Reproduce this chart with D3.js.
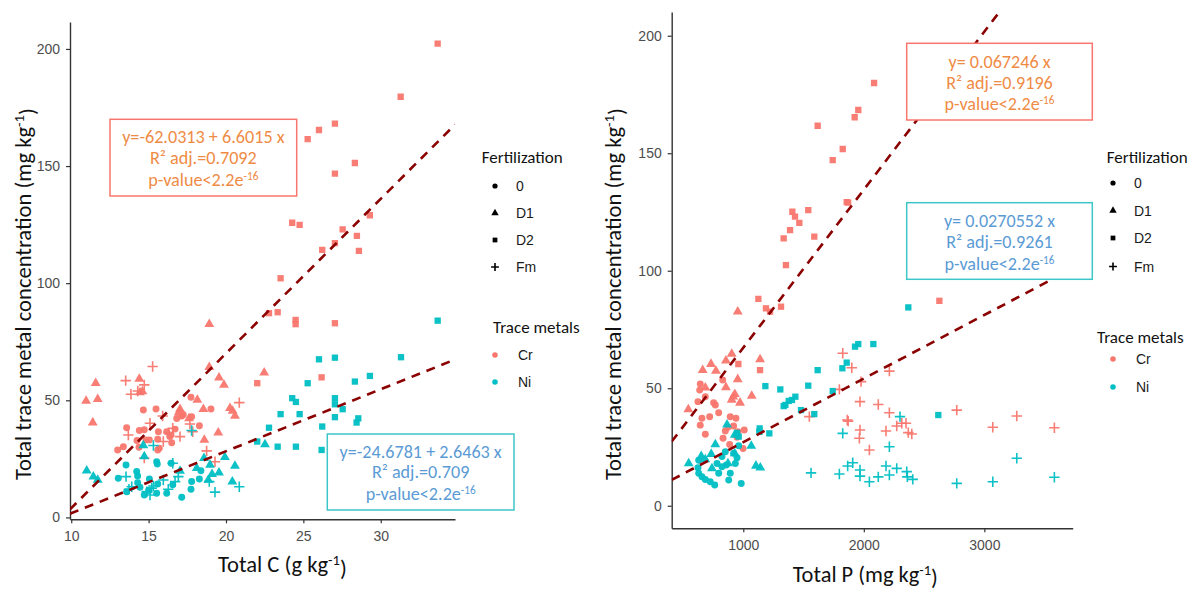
<!DOCTYPE html>
<html><head><meta charset="utf-8">
<script src="https://cdn.jsdelivr.net/npm/d3@7"></script>
<style>body{margin:0;background:#fff;} svg{display:block;}</style>
</head><body>
<svg id="chart" width="1197" height="593"></svg>
<script>
// ---------- categories ----------
const fertilization = ["0", "D1", "D2", "Fm"];
const metals = ["Cr", "Ni"];
const metalColors = ["#F8766D", "#00BFC4"];
const xTicksC = [10, 15, 20, 25, 30];
const xTicksP = [1000, 2000, 3000];
const yTicks = [0, 50, 100, 150, 200];

// ---------- left panel: Total C (g/kg) vs trace metal (mg/kg) ----------
const leftCr0 = [[13.0,28.8],[13.37,30.2],[13.58,38.3],[14.66,45.9],[14.72,37.4],[14.40,37.1],[15.48,46.3],[15.63,36.6],[16.17,36.6],[15.59,28.8],[15.05,33.1],[16.49,31.9],[17.14,43.3],[17.74,51.3],[17.78,43.0],[18.28,39.1],[19.03,46.3],[16.45,35.2],[14.25,32.8],[14.83,33.1],[15.59,33.4],[16.37,34.5],[14.38,30.0],[15.69,29.5],[16.71,37.7],[17.24,43.8],[16.82,42.2]];
const leftCrD1 = [[18.92,82.5],[22.47,61.8],[11.58,57.3],[10.96,49.7],[11.71,50.5],[11.39,40.5],[14.40,59.1],[14.44,53.4],[14.6,53.8],[18.92,64.1],[19.55,59.7],[19.87,56.6],[18.15,50.2],[18.54,46.2],[17.03,46.2],[20.26,46.6],[20.58,43.3],[19.50,36.2],[18.60,33.1],[17.61,42.3],[20.43,45.5],[16.95,44.8]];
const leftCrD2 = [[33.68,202.3],[31.29,179.6],[27.04,168.1],[26.01,165.4],[25.28,161.5],[28.33,151.3],[27.04,146.8],[24.28,125.8],[24.76,124.9],[29.30,129.0],[27.54,123.0],[28.46,120.2],[27.04,117.1],[26.22,114.2],[28.59,113.8],[23.53,102.1],[23.34,87.6],[22.78,87.2],[24.50,84.3],[24.50,82.5],[27.04,82.9],[22.02,57.3],[26.18,59.8]];
const leftCrFm = [[15.26,64.4],[13.52,58.4],[14.72,56.6],[13.86,52.6],[20.86,49.0],[15.91,43.3],[15.09,40.2],[13.69,35.2],[16.56,38.1],[17.03,34.5],[15.95,32.4],[17.67,39.9],[18.75,28.4],[19.29,23.8],[14.72,25.3],[17.85,36.6],[14.3,54.0],[16.3,36.0]];
const leftNi0 = [[13.54,22.4],[13.04,16.7],[14.23,19.6],[14.29,17.7],[15.52,23.8],[15.56,22.8],[16.45,23.1],[15.05,16.4],[14.44,12.9],[14.72,9.6],[17.14,8.6],[17.74,12.0],[17.78,15.3],[18.28,16.4],[16.17,10.3],[15.59,14.3],[16.56,13.9],[15.52,10.3],[13.58,11.0],[14.29,14.8],[15.0,11.5],[18.38,19.9]];
const leftNiD1 = [[11.0,20.0],[11.43,17.4],[11.71,16.0],[14.66,30.7],[14.72,26.0],[18.58,25.3],[19.93,25.7],[20.58,22.0],[20.41,15.3],[19.55,19.1],[18.11,21.0],[18.86,16.0],[22.52,31.2],[17.03,19.9],[18.97,22.4],[19.1,18.5]];
const leftNiD2 = [[33.68,84.0],[31.31,68.4],[26.01,67.5],[27.04,68.2],[29.30,60.4],[28.33,58.0],[25.28,57.3],[24.28,50.9],[24.52,49.3],[27.04,50.9],[27.04,48.3],[27.54,46.2],[23.53,44.1],[24.76,44.1],[27.04,42.8],[28.55,42.3],[28.44,40.5],[26.22,38.8],[22.78,38.3],[22.02,32.4],[23.34,30.2],[24.52,30.2],[26.18,28.8]];
const leftNiFm = [[13.54,17.4],[13.73,12.0],[15.31,30.7],[17.78,37.1],[15.20,12.5],[15.09,9.6],[15.95,16.0],[16.71,15.3],[16.92,17.4],[16.27,12.0],[15.31,13.4],[18.92,15.3],[19.29,10.8],[20.86,13.1],[16.56,23.1],[14.88,11.0],[13.91,13.1]];

// ---------- right panel: Total P (mg/kg) vs trace metal (mg/kg) ----------
const rightCr0 = [[829,53.5],[643,51.8],[685,46.4],[624,44.3],[754,43.8],[657,37.2],[796,39.6],[721,37.9],[643,34.3],[685,30.4],[892,37.9],[873,33.4],[939,37.2],[920,33.9],[956,31.5],[851,31.8],[832,28.7],[998,24.4],[887,26.1],[1008,32.2],[638,49.2],[768,42.9],[948,29.1]];
const rightCrD1 = [[954,82.6],[544,41.0],[732,60.3],[773,57.4],[856,61.7],[904,64.6],[954,53.8],[856,50.4],[973,43.8],[1070,46.7],[1139,62.3],[663,57.7],[917,46.4],[904,45.0],[685,50.2],[930,47.5]];
const rightCrD2 = [[2085,179.9],[1954,168.4],[1924,165.3],[1617,161.7],[1825,151.8],[1742,147.1],[1858,129.2],[1870,129.0],[1539,125.8],[1407,125.1],[1429,123.0],[1465,120.4],[1388,117.3],[1335,113.8],[1589,114.5],[1354,102.4],[1125,88.0],[1188,84.0],[1222,82.6],[1313,84.7],[959,60.3],[1139,57.7],[2627,87.2]];
const rightCrFm = [[1825,64.9],[1900,58.7],[2212,57.3],[1977,52.8],[1797,49.5],[1968,44.3],[2120,43.1],[2212,39.6],[1863,36.5],[1548,37.9],[2273,33.9],[2315,35.1],[2350,35.1],[2184,31.8],[1968,32.2],[1963,28.7],[2369,31.1],[2398,30.5],[2046,23.7],[2771,40.7],[3070,33.4],[3269,38.2],[3581,33.2],[1870,36.0]];
const rightNi0 = [[851,23.0],[823,20.9],[920,22.3],[859,17.3],[823,16.6],[782,18.0],[624,16.2],[630,13.8],[657,12.3],[685,11.2],[726,10.2],[763,8.8],[892,13.8],[879,10.9],[983,9.5],[934,18.0],[948,20.4],[796,13.8],[962,25.5],[630,19.4]];
const rightNiD1 = [[547,18.0],[768,26.1],[651,21.1],[685,19.7],[734,22.0],[865,34.5],[929,30.1],[1066,25.5],[1105,17.0],[1141,16.2],[740,15.9],[929,22.3],[873,18.0]];
const rightNiD2 = [[2079,68.8],[1954,68.8],[1927,67.7],[1858,60.9],[1822,58.5],[1617,57.7],[1539,51.1],[1742,48.8],[1479,40.7],[1589,39.0],[2618,38.6],[2369,84.4],[1183,50.9],[1307,49.5],[1432,46.4],[1404,45.0],[1377,44.6],[1349,42.9],[1335,42.4],[1136,32.9],[1133,31.5],[1216,30.8],[962,29.4],[948,31.0]];
const rightNiFm = [[1825,30.8],[2212,25.1],[2300,37.9],[1562,14.0],[1797,13.5],[1866,16.9],[1908,18.3],[1968,15.2],[1968,12.6],[2046,10.2],[2120,12.3],[2184,16.9],[2212,13.1],[2273,15.9],[2356,14.5],[2361,12.3],[2406,11.2],[2771,9.5],[3070,10.2],[3269,20.2],[3581,12.1]];

// ---------- regression fits ----------
const fitCIntercept = [-62.0313, -24.6781];
const fitCSlope = [6.6015, 2.6463];
const fitPIntercept = [0, 0];
const fitPSlope = [0.067246, 0.0270552];
const annoLeft = [["y=-62.0313 + 6.6015 x", "R² adj.=0.7092"], ["y=-24.6781 + 2.6463 x", "R² adj.=0.709"]];
const annoRight = [["y= 0.067246 x", "R² adj.=0.9196"], ["y= 0.0270552 x", "R² adj.=0.9261"]];

// ---------- layout ----------
const svg = d3.select("#chart");
const TITLE_FONT = "Carlito, Calibri, Lato, 'Open Sans', sans-serif";
const TICK_FONT = "'Liberation Sans', Arial, sans-serif";
const textOrange = "#EF8B45", textBlue = "#5B9BD5";
const boxBorder = ["#F8766D", "#3CC6C8"];

function fitWidth(sel, target) {
  const w = sel.node().getComputedTextLength();
  const fs = parseFloat(sel.attr("font-size"));
  sel.attr("font-size", fs * target / w);
}

function drawSymbol(g, shape, color, scale) {
  if (shape === 3) {
    const h = 5.2 * scale;
    g.append("path").attr("d", `M${-h},0H${h}M0,${-h}V${h}`)
      .attr("stroke", color).attr("stroke-width", 1.6).attr("fill", "none");
  } else {
    const gen = d3.symbol(shape === 0 ? d3.symbolCircle : shape === 1 ? d3.symbolTriangle : d3.symbolSquare,
      (shape === 0 ? 38 : shape === 1 ? 42 : 40) * scale * scale);
    g.append("path").attr("d", gen()).attr("fill", color);
  }
}

const panels = [
  {
    id: "L", xDomain: [9.92, 34.8], xRange: [70, 455], yDomain: [-0.8, 211.5], yRange: [519.3, 22],
    xTicks: xTicksC, series: [[leftCr0, leftCrD1, leftCrD2, leftCrFm], [leftNi0, leftNiD1, leftNiD2, leftNiFm]],
    intercept: fitCIntercept, slope: fitCSlope,
    xTitle: ["Total C (g kg", ")"], xTitleX: 218, xTitleW: 129, xTitleY: 572,
    yTitleX: 31, xTickPad: 8,
    anno: annoLeft,
    boxes: [{x: 110, y: 119.3, w: 186.7, h: 76.7, lines: [142.5, 164, 185.5], l2w: 107},
            {x: 327.3, y: 434, w: 186.7, h: 76, lines: [457.5, 478.3, 499.5], l2w: 97.6}],
    legX: 481.7, legSymX: 495, legLabX: 516,
    fertY: 163, fertRows: [186, 213, 240, 267], traceX: 493, traceY: 333, traceRows: [355, 382]
  },
  {
    id: "R", xDomain: [406, 3733], xRange: [671.7, 1072.7], yDomain: [-9.6, 210.1], yRange: [528.3, 12],
    xTicks: xTicksP, series: [[rightCr0, rightCrD1, rightCrD2, rightCrFm], [rightNi0, rightNiD1, rightNiD2, rightNiFm]],
    intercept: fitPIntercept, slope: fitPSlope,
    xTitle: ["Total P (mg kg", ")"], xTitleX: 792.7, xTitleW: 145.3, xTitleY: 581.5,
    yTitleX: 620.5, xTickPad: 8,
    anno: annoRight,
    boxes: [{x: 906.7, y: 43.3, w: 185.6, h: 76.7, lines: [67.5, 89, 110], l2w: 106.7},
            {x: 906.7, y: 202.7, w: 185.6, h: 76.6, lines: [226.5, 248, 269.5], l2w: 106.7}],
    legX: 1106.7, legSymX: 1113, legLabX: 1134,
    fertY: 163, fertRows: [183, 210.5, 238, 266.5], traceX: 1097, traceY: 343, traceRows: [359, 387]
  }
];

panels.forEach(p => {
  const x = d3.scaleLinear().domain(p.xDomain).range(p.xRange);
  const y = d3.scaleLinear().domain(p.yDomain).range(p.yRange);
  const g = svg.append("g");

  const clipId = "clip" + p.id;
  svg.append("clipPath").attr("id", clipId).append("rect")
    .attr("x", p.xRange[0]).attr("y", p.yRange[1])
    .attr("width", p.xRange[1] - p.xRange[0]).attr("height", p.yRange[0] - p.yRange[1]);

  const ax = g.append("g").attr("transform", `translate(0,${p.yRange[0]})`)
    .call(d3.axisBottom(x).tickValues(p.xTicks).tickSize(4).tickSizeOuter(0).tickPadding(p.xTickPad).tickFormat(d3.format("d")));
  const ay = g.append("g").attr("transform", `translate(${p.xRange[0]},0)`)
    .call(d3.axisLeft(y).tickValues(yTicks).tickSize(4).tickSizeOuter(0).tickPadding(6).tickFormat(d3.format("d")));
  [ax, ay].forEach(a => {
    a.select(".domain").attr("stroke", "#333").attr("stroke-width", 1.4);
    a.selectAll(".tick line").attr("stroke", "#333").attr("stroke-width", 1.2);
    a.selectAll(".tick text").attr("fill", "#4D4D4D").attr("font-size", 14).attr("font-family", TICK_FONT);
  });

  const pts = g.append("g").attr("clip-path", `url(#${clipId})`);
  p.series.forEach((metalSeries, mi) => {
    metalSeries.forEach((arr, si) => {
      arr.forEach(d => {
        const s = pts.append("g").attr("transform", `translate(${x(d[0])},${y(d[1])})`).attr("opacity", 0.95);
        drawSymbol(s, si, metalColors[mi], 1);
      });
    });
  });

  const lines = g.append("g").attr("clip-path", `url(#${clipId})`);
  metals.forEach((m, mi) => {
    const x0 = p.xDomain[0], x1 = p.xDomain[1];
    lines.append("line")
      .attr("x1", x(x0)).attr("y1", y(p.intercept[mi] + p.slope[mi] * x0))
      .attr("x2", x(x1)).attr("y2", y(p.intercept[mi] + p.slope[mi] * x1))
      .attr("stroke", "#8B0000").attr("stroke-width", 2.6).attr("stroke-dasharray", "9,7");
  });

  const xt = svg.append("text").attr("x", p.xTitleX).attr("y", p.xTitleY)
    .attr("font-family", TITLE_FONT).attr("font-size", 20).attr("fill", "#111");
  xt.append("tspan").text(p.xTitle[0]);
  xt.append("tspan").attr("dy", "-0.45em").attr("font-size", "0.65em").text("-1");
  xt.append("tspan").attr("dy", "0.45em").text(p.xTitle[1]);
  fitWidth(xt, p.xTitleW);

  const yt = svg.append("text").attr("transform", `translate(${p.yTitleX},480) rotate(-90)`)
    .attr("font-family", TITLE_FONT).attr("font-size", 20).attr("fill", "#111");
  yt.append("tspan").text("Total trace metal concentration (mg kg");
  yt.append("tspan").attr("dy", "-0.45em").attr("font-size", "0.65em").text("-1");
  yt.append("tspan").attr("dy", "0.45em").text(")");
  fitWidth(yt, 372);

  p.boxes.forEach((b, bi) => {
    svg.append("rect").attr("x", b.x).attr("y", b.y).attr("width", b.w).attr("height", b.h)
      .attr("fill", "#fff").attr("stroke", boxBorder[bi]).attr("stroke-width", 1.5);
    const cx = b.x + b.w / 2;
    const col = bi === 0 ? textOrange : textBlue;
    const l2 = svg.append("text").attr("x", cx).attr("y", b.lines[1]).attr("text-anchor", "middle")
      .attr("font-family", TITLE_FONT).attr("font-size", 17).attr("fill", col).text(p.anno[bi][1]);
    fitWidth(l2, b.l2w);
    const fs = l2.attr("font-size");
    svg.append("text").attr("x", cx).attr("y", b.lines[0]).attr("text-anchor", "middle")
      .attr("font-family", TITLE_FONT).attr("font-size", fs).attr("fill", col).text(p.anno[bi][0]);
    const l3 = svg.append("text").attr("x", cx).attr("y", b.lines[2]).attr("text-anchor", "middle")
      .attr("font-family", TITLE_FONT).attr("font-size", fs).attr("fill", col);
    l3.append("tspan").text("p-value<2.2e");
    l3.append("tspan").attr("dy", "-0.5em").attr("font-size", "0.62em").text("-16");
  });

  svg.append("text").attr("x", p.legX).attr("y", p.fertY).attr("font-family", TITLE_FONT)
    .attr("font-size", 17).attr("fill", "#111").text("Fertilization");
  fertilization.forEach((f, i) => {
    const s = svg.append("g").attr("transform", `translate(${p.legSymX},${p.fertRows[i]})`);
    drawSymbol(s, i, "#000", 0.75);
    svg.append("text").attr("x", p.legLabX).attr("y", p.fertRows[i] + 5).attr("font-family", TICK_FONT)
      .attr("font-size", 14).attr("fill", "#1a1a1a").text(f);
  });
  svg.append("text").attr("x", p.traceX).attr("y", p.traceY).attr("font-family", TITLE_FONT)
    .attr("font-size", 17).attr("fill", "#111").text("Trace metals");
  metals.forEach((m, i) => {
    const s = svg.append("g").attr("transform", `translate(${p.legSymX},${p.traceRows[i]})`);
    drawSymbol(s, 0, metalColors[i], 0.8);
    svg.append("text").attr("x", p.legLabX + 2).attr("y", p.traceRows[i] + 5).attr("font-family", TICK_FONT)
      .attr("font-size", 14).attr("fill", "#1a1a1a").text(m);
  });
});
</script>
</body></html>
